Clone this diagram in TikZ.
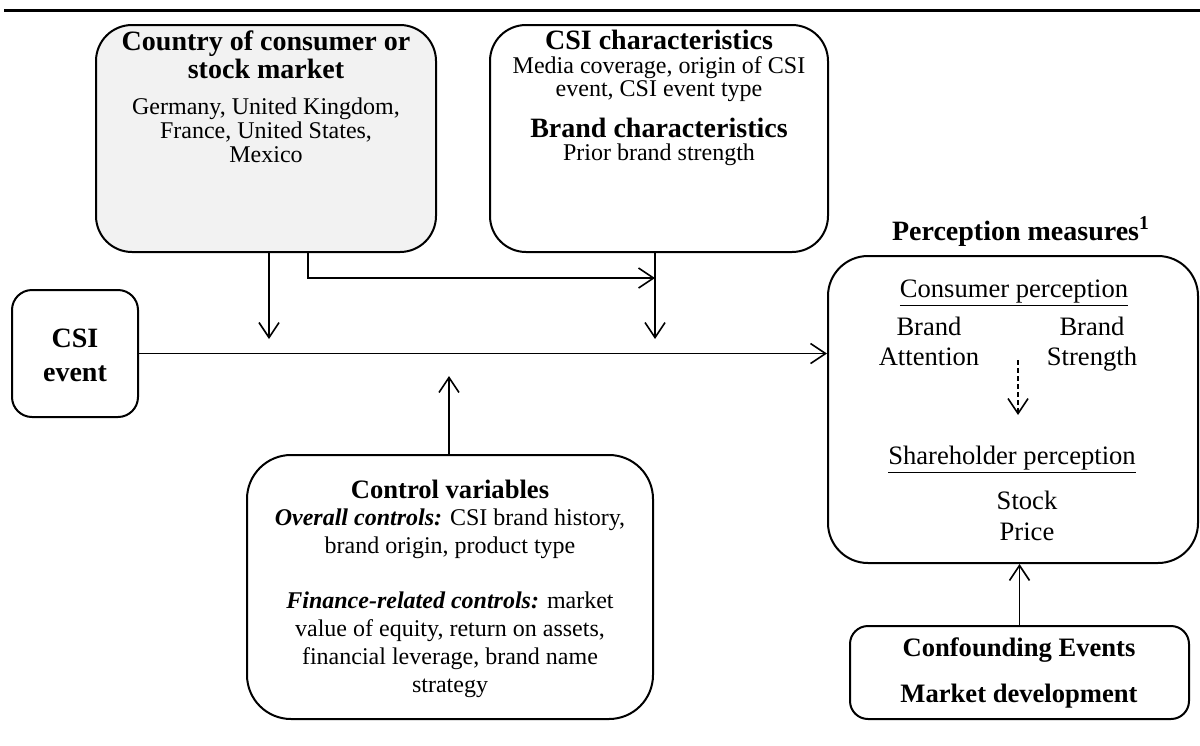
\documentclass[tikz,border=0pt]{standalone}
\usepackage{fontspec}
\setmainfont{Liberation Serif}
\usetikzlibrary{arrows.meta}
\definecolor{countryfill}{HTML}{F2F2F2}
\begin{document}
\begin{tikzpicture}[x=0.5pt,y=-0.5pt,
  box/.style={draw, line width=1pt, rounded corners=#1, inner sep=0pt},
  box/.default=18pt,
  conn/.style={line width=0.8pt, -{Straight Barb[length=7.5pt,width=10pt]}},
  ttl/.style={anchor=base, inner sep=0pt, font=\fontsize{14}{14}\selectfont\bfseries},
  sttl/.style={anchor=base, inner sep=0pt, font=\fontsize{13.3}{14}\selectfont\bfseries},
  bdy/.style={anchor=base, inner sep=0pt, font=\fontsize{12}{12}\selectfont},
  pbd/.style={anchor=base, inner sep=0pt, font=\fontsize{13.3}{14}\selectfont}]
\useasboundingbox (0,0) rectangle (1200,745);
% top rule
\coordinate (L) at (4,10);
\coordinate (R) at (1200,10);
\draw[line width=1.5pt] (L) -- (R);
% boxes
\node[box=18pt, fill=countryfill, minimum width=170pt, minimum height=113.5pt] (country) at (266,138.5) {};
\node[box=18pt, minimum width=169pt, minimum height=113.5pt] (csichar) at (659,138.5) {};
\node[box=10pt, minimum width=63pt, minimum height=63.5pt] (event) at (75,353.5) {};
\node[box=20pt, minimum width=185pt, minimum height=153.5pt] (perc) at (1013,409.5) {};
\node[box=22pt, minimum width=203pt, minimum height=132pt] (control) at (450,587) {};
\node[box=9pt, minimum width=169.5pt, minimum height=46.5pt] (conf) at (1019.5,672.5) {};
% country texts
\node[ttl] (co1) at (266,50) {Country of consumer or};
\node[ttl] (co2) at (266,78) {stock market};
\node[bdy] (co3) at (266,114) {Germany, United Kingdom,};
\node[bdy] (co4) at (266,138) {France, United States,};
\node[bdy] (co5) at (266,162) {Mexico};
% csi characteristics texts
\node[ttl] (cs1) at (659,49) {CSI characteristics};
\node[bdy] (cs2) at (659,73) {Media coverage, origin of CSI};
\node[bdy] (cs3) at (659,96) {event, CSI event type};
\node[ttl] (cs4) at (659,137) {Brand characteristics};
\node[bdy] (cs5) at (659,160) {Prior brand strength};
% event texts
\node[ttl] (ev1) at (75,347) {CSI};
\node[ttl] (ev2) at (75,381) {event};
% perception
\node[ttl] (pt) at (1021,240) {Perception measures\textsuperscript{1}};
\node[pbd] (p1) at (1014,297) {\underline{Consumer perception}};
\node[pbd] (p2) at (929,335) {Brand};
\node[pbd] (p3) at (929,365) {Attention};
\node[pbd] (p4) at (1092,335) {Brand};
\node[pbd] (p5) at (1092,365) {Strength};
\node[pbd] (p6) at (1012,464) {\underline{Shareholder perception}};
\node[pbd] (p7) at (1027,509) {Stock};
\node[pbd] (p8) at (1027,540) {Price};
% control
\node[sttl] (k1) at (450,498) {Control variables};
\node[bdy] (k2) at (450,525) {\textbf{\textit{Overall controls:}} CSI brand history,};
\node[bdy] (k3) at (450,553) {brand origin, product type};
\node[bdy] (k4) at (450,608) {\textbf{\textit{Finance-related controls:}} market};
\node[bdy] (k5) at (450,636) {value of equity, return on assets,};
\node[bdy] (k6) at (450,664) {financial leverage, brand name};
\node[bdy] (k7) at (450,692) {strategy};
% confounding
\node[sttl] (f1) at (1019,656) {Confounding Events};
\node[sttl] (f2) at (1019,702) {Market development};
% connectors
\coordinate (cA) at (269,339);
\coordinate (cB) at (308,278);
\coordinate (cC) at (655,339);
\coordinate (cD) at (449,376);
\coordinate (cE) at (1018,360);
\coordinate (cF) at (1018,415);
\draw[conn] (cA |- country.south) -- (cA);
\draw[conn] (cB |- country.south) -- (cB) -- (cB -| cC);
\draw[conn] (cC |- csichar.south) -- (cC);
\draw[conn] (event.east) -- (event.east -| perc.west);
\draw[conn] (cD |- control.north) -- (cD);
\draw[conn, dash pattern=on 2.5pt off 1.5pt] (cE) -- (cF);
\draw[conn] (conf.north) -- (conf.north |- perc.south);
\end{tikzpicture}
\end{document}
